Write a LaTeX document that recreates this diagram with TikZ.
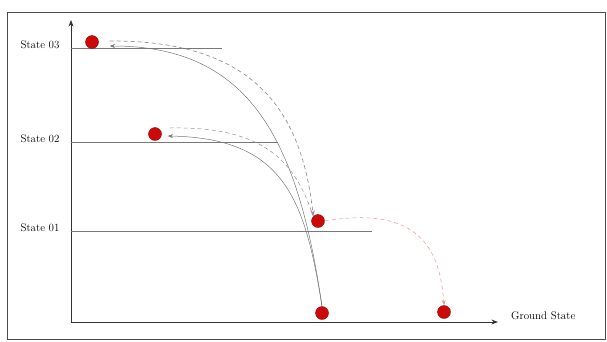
\documentclass[tikz,border=0pt]{standalone}
\usetikzlibrary{arrows.meta}
\definecolor{dotred}{RGB}{205,10,10}
\definecolor{linegray}{RGB}{120,120,120}
\definecolor{pathred}{RGB}{235,150,150}
\tikzset{
  electron/.style={circle,fill=dotred,draw=dotred!70!black,line width=0.4pt,inner sep=0pt,minimum size=13pt},
  levelname/.style={font=\fontsize{11}{13}\selectfont,inner sep=0pt},
  level/.style={linegray,line width=0.6pt},
  jump/.style={linegray,line width=0.5pt},
  fall/.style={linegray!80,line width=0.5pt,dashed,dash pattern=on 4pt off 3pt}
}
\begin{document}
\begin{tikzpicture}[x=1pt,y=-1pt,>=Stealth]
\useasboundingbox (0,0) rectangle (607,341);
\draw[black!70,line width=0.8pt] (7,12) rectangle (605,339);

% axes
\coordinate (o) at (71,322);
\coordinate (ytop) at (71,20);
\coordinate (xend) at (498,322);
\draw[->,black!80,line width=0.8pt] (o) -- (ytop);
\draw[->,black!80,line width=0.8pt] (o) -- (xend);

% levels
\node[levelname] (n3) at (40,45) {State 03};
\node[levelname] (n2) at (40,139) {State 02};
\node[levelname] (n1) at (40,228) {State 01};
\node[levelname,anchor=west] (ng) at (511,316) {Ground State};

\coordinate (l3a) at (71,48);  \coordinate (l3b) at (222,48);
\coordinate (l2a) at (71,142); \coordinate (l2b) at (278,142);
\coordinate (l1a) at (71,231); \coordinate (l1b) at (372,231);
\draw[level] (l3a) -- (l3b);
\draw[level] (l2a) -- (l2b);
\draw[level] (l1a) -- (l1b);

% electrons
\node[electron] (s3) at (92,42) {};
\node[electron] (s2) at (155,134) {};
\node[electron] (s1) at (318,221) {};
\node[electron] (g1) at (322,313) {};
\node[electron] (g2) at (444,312) {};

% up
\draw[jump,->] (g1.north) .. controls (298,140) and (250,46) .. ([xshift=11pt,yshift=-4pt]s3.east);
\draw[jump,->] (g1.north) .. controls (305,200) and (285,138) .. ([xshift=6pt,yshift=-2pt]s2.east);

% down
\draw[fall,->,line width=0.7pt] ([xshift=11pt,yshift=1pt]s3.east) .. controls (258,40) and (302,115) .. (s1.north west);
\draw[fall] ([xshift=8pt,yshift=6pt]s2.east) .. controls (268,126) and (296,165) .. (s1.north west);
\draw[fall,->,pathred] (s1.east) .. controls (420,205) and (440,250) .. (g2.north);
\end{tikzpicture}
\end{document}
